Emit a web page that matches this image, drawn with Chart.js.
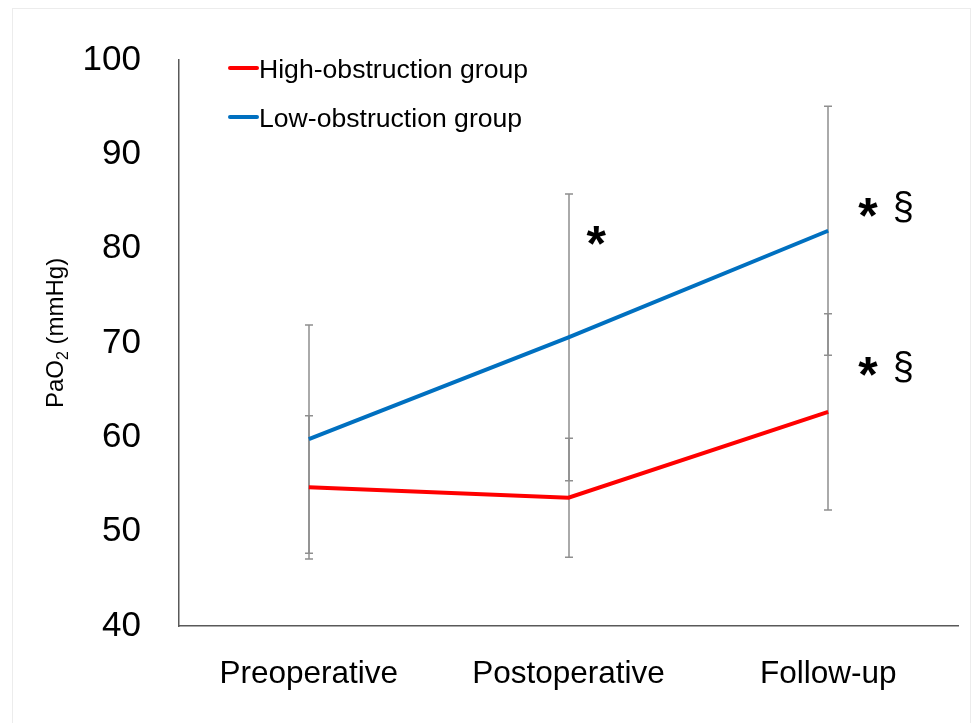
<!DOCTYPE html>
<html>
<head>
<meta charset="utf-8">
<script src="https://cdn.jsdelivr.net/npm/chart.js@4.4.0/dist/chart.umd.min.js"></script>
<style>
  html, body { margin: 0; padding: 0; background: #fff; }
  #wrap { position: relative; width: 972px; height: 723px; }
  #frame { position: absolute; left: 12px; top: 8px; width: 959px; height: 720px; border: 1px solid #ececec; box-sizing: border-box; }
  canvas { position: absolute; left: 0; top: 0; }
</style>
</head>
<body>
<div id="wrap">
  <div id="frame"></div>
  <canvas id="pao2-chart" width="972" height="723"></canvas>
</div>
<script>
// PaO2 by group over time, mean ± SD
const categories = ["Preoperative", "Postoperative", "Follow-up"];
const highMean = [54.7, 53.6, 62.7];
const highSD = [7.6, 6.3, 10.4];
const lowMean = [59.8, 70.6, 81.9];
const lowSD = [12.1, 15.2, 13.2];
const yMin = 40, yMax = 100, yStep = 10;

// significance marks: category index, value, symbol
const markIndex = [1, 2, 2];
const markValue = [81.4, 84.4, 67.5];
const markSymbol = ["*", "*\u00a7", "*\u00a7"];

const FONT = "'Liberation Sans', Arial, sans-serif";

// ─── Plugins ─────────────────────────────────────────────────────────────────

const errorBars = {
  id: "errorBars",
  beforeDatasetsDraw(chart) {
    const { ctx, scales: { x, y } } = chart;
    ctx.save();
    ctx.strokeStyle = "#8f8f8f";
    ctx.lineWidth = 1.5;
    chart.data.datasets.forEach((ds) => {
      ds.data.forEach((v, i) => {
        const px = Math.round(x.getPixelForValue(i));
        const top = y.getPixelForValue(v + ds.sd[i]);
        const bot = y.getPixelForValue(v - ds.sd[i]);
        ctx.beginPath();
        ctx.moveTo(px, top); ctx.lineTo(px, bot);
        ctx.moveTo(px - 4, top); ctx.lineTo(px + 4, top);
        ctx.moveTo(px - 4, bot); ctx.lineTo(px + 4, bot);
        ctx.stroke();
      });
    });
    ctx.restore();
  },
};

// draw a glyph so that its ink box is centred on (cx, cy)
function centredGlyph(ctx, text, cx, cy) {
  const m = ctx.measureText(text);
  const w = m.actualBoundingBoxLeft + m.actualBoundingBoxRight;
  const h = m.actualBoundingBoxAscent + m.actualBoundingBoxDescent;
  ctx.fillText(text, cx - w / 2 + m.actualBoundingBoxLeft, cy - h / 2 + m.actualBoundingBoxAscent);
}

const extras = {
  id: "extras",
  afterDraw(chart) {
    const { ctx, chartArea, scales: { x, y } } = chart;
    ctx.save();
    ctx.fillStyle = "#000";
    ctx.textAlign = "left";
    ctx.textBaseline = "alphabetic";

    // significance marks
    markIndex.forEach((idx, k) => {
      const px = x.getPixelForValue(idx);
      const py = y.getPixelForValue(markValue[k]);
      const sym = markSymbol[k];
      if (sym.length === 1) {
        ctx.font = "bold 50px " + FONT;
        centredGlyph(ctx, "*", px + 28, py);
      } else {
        ctx.font = "bold 50px " + FONT;
        centredGlyph(ctx, "*", px + 40, py);
        ctx.font = "38px " + FONT;
        centredGlyph(ctx, sym[1], px + 75, py);
      }
    });

    // legend (top-left inside the plot)
    const lx = chartArea.left + 51;
    chart.data.datasets.forEach((ds, i) => {
      const ly = chartArea.top + 8 + i * 49;
      ctx.strokeStyle = ds.borderColor;
      ctx.lineWidth = 4;
      ctx.lineCap = "round";
      ctx.beginPath();
      ctx.moveTo(lx, ly); ctx.lineTo(lx + 27, ly);
      ctx.stroke();
      ctx.font = "26.6px " + FONT;
      ctx.fillText(ds.label, lx + 29, ly + 9.5);
    });

    // y-axis title with subscript 2
    ctx.save();
    ctx.translate(55, (chartArea.top + chartArea.bottom) / 2 - 10);
    ctx.rotate(-Math.PI / 2);
    const a = "PaO", b = " (mmHg)";
    ctx.font = "16px " + FONT;
    const wSub = ctx.measureText("2").width;
    ctx.font = "24px " + FONT;
    const wa = ctx.measureText(a).width, wb = ctx.measureText(b).width;
    let sx = -(wa + wSub + wb) / 2;
    const base = 8;
    ctx.fillText(a, sx, base);
    sx += wa;
    ctx.font = "16px " + FONT;
    ctx.fillText("2", sx, base + 5);
    sx += wSub;
    ctx.font = "24px " + FONT;
    ctx.fillText(b, sx, base);
    ctx.restore();

    ctx.restore();
  },
};

// ─── Chart ───────────────────────────────────────────────────────────────────

new Chart(document.getElementById("pao2-chart"), {
  type: "line",
  data: {
    labels: categories,
    datasets: [
      { label: "High-obstruction group", data: highMean, sd: highSD, borderColor: "#ff0000", borderWidth: 4, pointRadius: 0, tension: 0, fill: false },
      { label: "Low-obstruction group", data: lowMean, sd: lowSD, borderColor: "#0070c0", borderWidth: 4, pointRadius: 0, tension: 0, fill: false },
    ],
  },
  options: {
    responsive: false,
    devicePixelRatio: 1,
    animation: false,
    layout: { padding: { top: 60, right: 14, left: 0, bottom: 0 } },
    plugins: { legend: { display: false }, tooltip: { enabled: false } },
    scales: {
      x: {
        offset: true,
        grid: { display: false, drawTicks: false },
        border: { display: true, color: "#595959", width: 1.5 },
        ticks: { color: "#000", font: { family: FONT, size: 31.5 }, padding: 29, maxRotation: 0 },
        afterFit: (s) => { s.height = 97; },
      },
      y: {
        min: yMin, max: yMax,
        grid: { display: false, drawTicks: false },
        border: { display: true, color: "#595959", width: 1.5 },
        ticks: { stepSize: yStep, color: "#000", font: { family: FONT, size: 35 }, padding: 38 },
        afterFit: (s) => { s.width = 179; },
      },
    },
  },
  plugins: [errorBars, extras],
});
</script>
</body>
</html>
